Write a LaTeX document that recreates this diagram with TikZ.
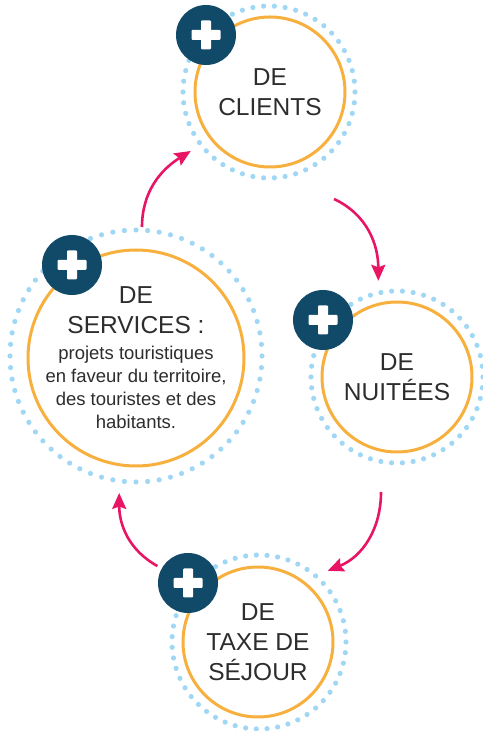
\documentclass[tikz,border=0pt]{standalone}
\usepackage{fontspec}
\setmainfont{Liberation Sans}
\usetikzlibrary{arrows.meta,calc}
\definecolor{navy}{RGB}{17,74,104}
\definecolor{ringorange}{RGB}{247,176,62}
\definecolor{dotblue}{RGB}{160,215,245}
\definecolor{flowpink}{RGB}{232,20,100}
\definecolor{ink}{RGB}{45,45,45}
\newcommand\detailfont{\fontsize{18.5}{23}\selectfont}
\tikzset{
  bubble/.style={circle,draw=ringorange,line width=3pt,fill=white,text=ink,
    align=center,inner sep=0pt,font=\fontsize{24.5}{30}\selectfont},
  ring/.style={circle,inner sep=0pt,outer sep=12pt},
  badge/.style={circle,fill=navy,minimum size=60pt,inner sep=0pt,outer sep=5pt},
  flow/.style={flowpink,line width=2.6pt,
    -{Stealth[length=16pt,width=14pt,inset=2.5pt]}}
}

\begin{document}
\begin{tikzpicture}[x=1pt,y=1pt,line join=round]
  \useasboundingbox (0,0) rectangle (482,731);
  % dotted rings
  \node[ring,minimum size=172pt] (cliring) at (269,639) {};
  \node[ring,minimum size=252pt] (servring) at (136,375) {};
  \node[ring,minimum size=172pt] (nuitring) at (397,354) {};
  \node[ring,minimum size=174pt] (taxering) at (259,89) {};
  \foreach \n/\r/\k in {cliring/86/50,servring/126/68,nuitring/86/50,taxering/87/51}
    \foreach \i in {1,...,\k}
      \fill[dotblue] ($(\n)+({360/\k*\i}:\r)$) circle (2.6);
  % bubbles
  \node[bubble,minimum size=150pt] (clients) at (270,639) {DE\\CLIENTS};
  \node[bubble,minimum size=216pt,inner sep=-20pt] (services) at (136,373)
    {DE\\SERVICES :\\[-4pt]\detailfont projets touristiques\\[-7pt]
     \detailfont en faveur du territoire,\\[-7pt]\detailfont des touristes et des\\[-7pt]
     \detailfont habitants.};
  \node[bubble,minimum size=150pt] (nuitees) at (397,354) {DE\\NUITÉES};
  \node[bubble,minimum size=150pt] (taxe) at (258,89) {DE\\TAXE DE\\SÉJOUR};
  % plus badges
  \node[badge] (clibadge) at (206,696) {};
  \node[badge] (servbadge) at (72,466) {};
  \node[badge] (nuitbadge) at (323,411) {};
  \node[badge] (taxebadge) at (188,148) {};
  \foreach \b in {clibadge,servbadge,nuitbadge,taxebadge} {
    \fill[white,rounded corners=1pt] ($(\b)+(-14.5,-5)$) rectangle ($(\b)+(14.5,5)$);
    \fill[white,rounded corners=1pt] ($(\b)+(-5,-14.5)$) rectangle ($(\b)+(5,14.5)$);
  }
  % cycle arrows
  \coordinate (out1) at (142,504);
  \coordinate (out2) at (334,532);
  \coordinate (out3) at (381,239);
  \draw[flow] (out1) to[out=90,in=212] (cliring.217);
  \draw[flow] (out2) to[out=-25,in=90] (nuitring.101);
  \draw[flow] (out3) to[out=-90,in=22] (taxering.46);
  \draw[flow] (taxebadge.151) to[out=151,in=-90] (servring.263);
\end{tikzpicture}
\end{document}
